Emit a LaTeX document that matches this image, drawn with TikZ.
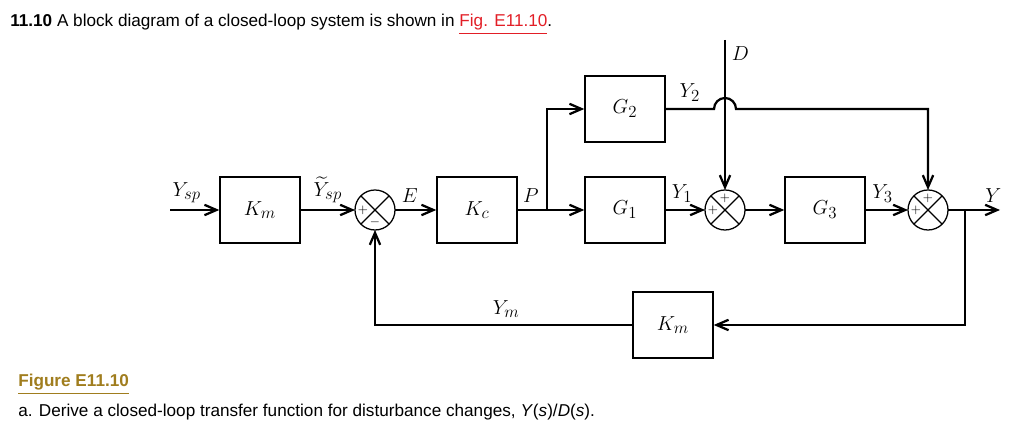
\documentclass[tikz,border=0pt]{standalone}
\usepackage{amsmath}
\usepackage{amssymb}
\usepackage{fontspec}
\setmainfont{Liberation Sans}
\usepackage{tikz}
\usepackage{xcolor}
\usetikzlibrary{arrows.meta,calc}
\DeclareMathSizes{14.4}{14.4}{11.5}{9}

\definecolor{figred}{RGB}{226,30,38}
\definecolor{figgold}{RGB}{160,125,30}

\tikzset{
  blk/.style={draw,line width=1pt,minimum width=2cm,minimum height=1.65cm,
    font=\Large},
  sumj/.style={draw,circle,line width=0.9pt,minimum size=1cm,inner sep=0pt,outer sep=0pt},
  sig/.style={line width=1.6pt,-{Straight Barb[length=3mm,width=2.6mm]}},
  wire/.style={line width=1.6pt},
  lbl/.style={above,inner sep=4.5pt,font=\Large},
  sgn/.style={font=\small,inner sep=0pt}
}

\begin{document}
\begin{tikzpicture}[x=0.025cm,y=0.025cm]
            \useasboundingbox (0,0) rectangle (1024,431);
            % text
            \node[anchor=base west,inner sep=0pt,font=\fontsize{12.2}{14}\selectfont] (title) at (10,404)
              {\textbf{11.10} A block diagram of a closed-loop system is shown in \textcolor{figred}{\underline{Fig. E11.10}}.};
            \node[anchor=base west,inner sep=0pt,font=\fontsize{12.2}{14}\selectfont\bfseries,text=figgold] (figlbl) at (18,44)
              {\underline{Figure E11.10}};
            \node[anchor=base west,inner sep=0pt,font=\fontsize{12.2}{14}\selectfont] (quest) at (18,14)
              {a. Derive a closed-loop transfer function for disturbance changes, \textit{Y}(\textit{s})/\textit{D}(\textit{s}).};
            % blocks
            \node[blk] (km1) at (260,221) {$K_m$};
            \node[sumj] (s1) at (375,221) {};
            \node[blk] (kc) at (477,221) {$K_c$};
            \node[blk] (g2) at (625,322) {$G_2$};
            \node[blk] (g1) at (625,221) {$G_1$};
            \node[sumj] (s2) at (725,221) {};
            \node[blk] (g3) at (825,221) {$G_3$};
            \node[sumj] (s3) at (928,221) {};
            \node[blk] (km2) at (673,106) {$K_m$};
            \coordinate (yin) at (170,221);
            \coordinate (p) at (547,221);
            \coordinate (yout) at (1000,221);
            \coordinate (tap) at (965,221);
            \coordinate (dtop) at (725,391);
            \coordinate (j1) at (714,322);
            \coordinate (c2) at (928,322);
            % crosses and signs
            \foreach \s in {s1,s2,s3}
              \draw[line width=0.9pt] (\s.north east) -- (\s.south west) (\s.north west) -- (\s.south east);
            \node[sgn] at ($(s1)+(-12,0)$) {$+$};
            \node[sgn] at ($(s1)+(0,-12)$) {$-$};
            \foreach \s in {s2,s3} {
              \node[sgn] at ($(\s)+(-12,0)$) {$+$};
              \node[sgn] at ($(\s)+(0,12)$) {$+$};
            }
            % signals
            \draw[sig] (yin) -- (km1) node[lbl,pos=0.34] {$Y_{sp}$};
            \draw[sig] (km1) -- (s1) node[lbl,pos=0.5] {$\widetilde{Y}_{sp}$};
            \draw[sig] (s1) -- (kc) node[lbl,pos=0.36] {$E$};
            \draw[wire] (kc) -- (p) node[lbl,pos=0.45] {$P$};
            \draw[sig] (p) -- (g1);
            \draw[sig] (p) |- (g2);
            \draw[sig] (g1) -- (s2) node[lbl,pos=0.42] {$Y_1$};
            \draw[sig] (g2) -- node[lbl] {$Y_2$} (j1) arc[start angle=180,end angle=0,radius=11] -- (c2) -- (s3);
            \draw[sig] (dtop) node[below right,inner sep=4pt,font=\Large] {$D$} -- (s2);
            \draw[sig] (s2) -- (g3);
            \draw[sig] (g3) -- (s3) node[lbl,pos=0.4] {$Y_3$};
            \draw[sig] (s3) -- (yout) node[lbl,pos=0.87] {$Y$};
            \draw[sig] (tap) |- (km2);
            \draw[sig] (km2) -| (s1) node[lbl,pos=0.245] {$Y_m$};
        \end{tikzpicture}
\end{document}
